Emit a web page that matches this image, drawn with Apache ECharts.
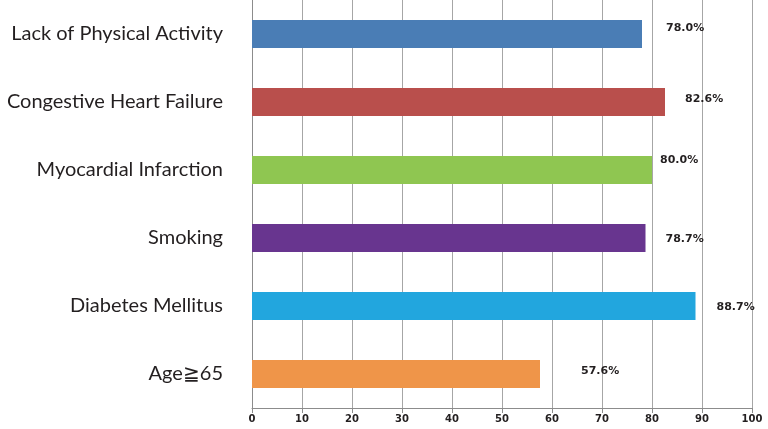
<!DOCTYPE html>
<html>
<head>
<meta charset="utf-8">
<script src="https://cdn.jsdelivr.net/npm/echarts@6/dist/echarts.min.js"></script>
<style>
  html, body { margin: 0; padding: 0; background: #fff; }
</style>
</head>
<body>
<div id="chart" style="width: 768px; height: 429px"></div>
<script>
const categories = [
  'Lack of Physical Activity',
  'Congestive Heart Failure',
  'Myocardial Infarction',
  'Smoking',
  'Diabetes Mellitus',
  'Age≧65'
]
const percentValues = [78.0, 82.6, 80.0, 78.7, 88.7, 57.6]
const barColors = ['#4a7db5', '#b94f4c', '#8fc651', '#68358f', '#22a6de', '#ef9549']
const xTicks = [0, 10, 20, 30, 40, 50, 60, 70, 80, 90, 100]

const chart = echarts.init(document.getElementById('chart'))

// label gaps / lifts differ a bit per bar in the original
const labelGap = [24, 20, 8, 20, 21, 41]
const labelLift = [-6, -3, -10, 1, 1, -3]

const option = {
  animation: false,
  grid: {
    left: 252,
    right: 16,
    top: 0,
    bottom: 21
  },
  xAxis: {
    type: 'value',
    min: xTicks[0],
    max: xTicks[xTicks.length - 1],
    interval: 10,
    axisLine: {
      show: true,
      lineStyle: { color: '#8c8c8c', width: 1 }
    },
    axisTick: {
      show: true,
      length: 5,
      lineStyle: { color: '#8c8c8c' }
    },
    axisLabel: {
      color: '#231f20',
      fontFamily: 'DejaVu Sans',
      fontWeight: 'bold',
      fontSize: 10,
      margin: 6
    },
    splitLine: {
      show: true,
      lineStyle: { color: '#a6a6a6', width: 1 }
    }
  },
  yAxis: {
    type: 'category',
    inverse: true,
    data: categories,
    axisLine: {
      show: true,
      lineStyle: { color: '#8c8c8c', width: 1 }
    },
    axisTick: { show: false },
    axisLabel: {
      color: '#231f20',
      fontFamily: 'Lato',
      fontSize: 20,
      margin: 29,
      align: 'right'
    }
  },
  series: [
    {
      type: 'bar',
      barWidth: 28,
      data: percentValues.map((v, i) => ({
        value: v,
        itemStyle: { color: barColors[i] },
        label: { distance: labelGap[i], offset: [0, labelLift[i]] }
      })),
      label: {
        show: true,
        position: 'right',
        color: '#231f20',
        fontFamily: 'DejaVu Sans',
        fontWeight: 'bold',
        fontSize: 11,
        formatter: p => p.value.toFixed(1) + '%'
      }
    }
  ]
}

chart.setOption(option)
</script>
</body>
</html>
